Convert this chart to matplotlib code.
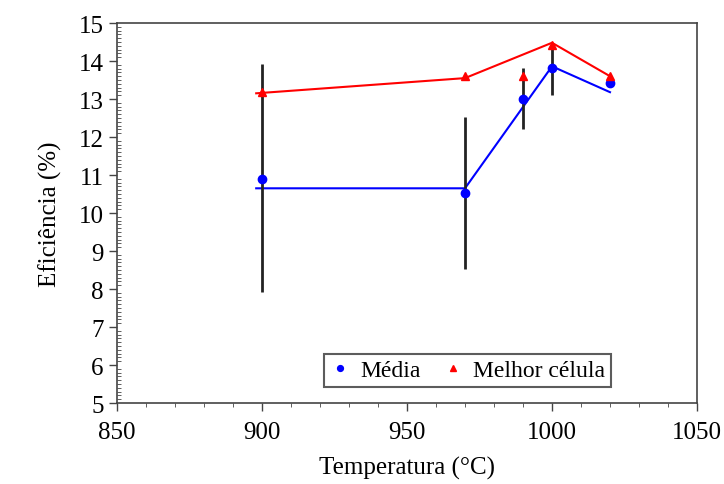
import numpy as np
import matplotlib.pyplot as plt
from matplotlib.ticker import MultipleLocator

# data
temps = [900, 970, 990, 1000, 1020]
media = [10.9, 10.53, 13.0, 13.82, 13.42]
err_lo = [7.92, 8.53, 12.22, 13.1, 13.32]
err_hi = [13.92, 12.53, 13.82, 14.45, 13.5]
melhor = [13.18, 13.6, 13.6, 14.42, 13.6]

# fitted guide lines
fit_x = [898, 970, 1000, 1020]
fit_media = [10.65, 10.65, 13.86, 13.18]
fit_melhor = [13.15, 13.55, 14.48, 13.6]

plt.rcParams['font.family'] = ['Liberation Serif', 'DejaVu Serif']

fig = plt.figure(figsize=(7.24, 4.85), dpi=100)
ax = fig.add_axes([0.1616, 0.167, 0.8011, 0.7835])

media = np.array(media)
yerr = [media - np.array(err_lo), np.array(err_hi) - media]

ax.plot(fit_x, fit_melhor, color='red', lw=1.5, zorder=2)
ax.plot(fit_x, fit_media, color='blue', lw=1.5, zorder=2)
ax.errorbar(temps, media, yerr=yerr, fmt='none', ecolor='#222222',
            elinewidth=2, capsize=0, zorder=3)
ax.plot(temps, media, 'o', color='blue', ms=6, label='Média', zorder=4)
ax.plot(temps, melhor, '^', color='red', ms=6, label='Melhor célula', zorder=4)

ax.set_xlim(850, 1050)
ax.set_ylim(5, 15)
ax.xaxis.set_major_locator(MultipleLocator(50))
ax.xaxis.set_minor_locator(MultipleLocator(10))
ax.yaxis.set_major_locator(MultipleLocator(1))
ax.yaxis.set_minor_locator(MultipleLocator(0.1))
ax.tick_params(axis='both', which='major', labelsize=18, direction='out',
               length=6, width=1, color='#444444')
ax.tick_params(axis='x', which='major', pad=7)
ax.tick_params(axis='x', which='minor', direction='out', length=3, color='#444444')
ax.tick_params(axis='y', which='minor', direction='in', length=3, color='#444444')
for s in ax.spines.values():
    s.set_color('#444444')
    s.set_linewidth(1.2)

ax.set_xlabel('Temperatura (°C)', fontsize=18, labelpad=9)
ax.set_ylabel('Eficiência (%)', fontsize=18, labelpad=12)

leg = ax.legend(loc='lower center', bbox_to_anchor=(0.604, 0.01), ncol=2,
                fontsize=17, frameon=True, fancybox=False, edgecolor='#333333',
                handlelength=0.9, handletextpad=0.4, columnspacing=0.9,
                markerscale=0.7, borderpad=0.25)
leg.get_frame().set_linewidth(1.5)

fig.savefig('out.png', dpi=100)
